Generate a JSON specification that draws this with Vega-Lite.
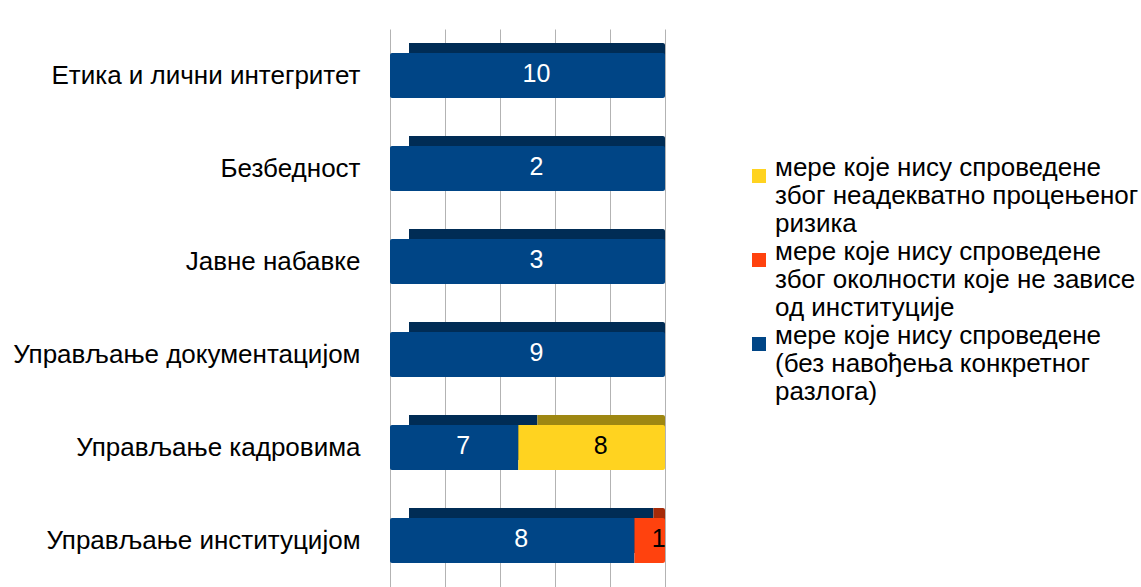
{
  "$schema": "https://vega.github.io/schema/vega-lite/v6.json",
  "width": 275,
  "height": 558,
  "autosize": "none",
  "padding": {"left": 390, "top": 29, "right": 476, "bottom": 0},
  "background": "white",
  "config": {
    "view": {"stroke": null},
    "font": "Liberation Sans"
  },
  "data": {"values": [
      {"cat": "Етика и лични интегритет", "series": "мере које нису спроведене\n(без навођења конкретног\nразлога)", "ord": 1, "value": 10},
      {"cat": "Безбедност ", "series": "мере које нису спроведене\n(без навођења конкретног\nразлога)", "ord": 1, "value": 2},
      {"cat": "Јавне набавке", "series": "мере које нису спроведене\n(без навођења конкретног\nразлога)", "ord": 1, "value": 3},
      {"cat": "Управљање документацијом", "series": "мере које нису спроведене\n(без навођења конкретног\nразлога)", "ord": 1, "value": 9},
      {"cat": "Управљање кадровима", "series": "мере које нису спроведене\n(без навођења конкретног\nразлога)", "ord": 1, "value": 7},
      {"cat": "Управљање кадровима", "series": "мере које нису спроведене\nзбог неадекватно процењеног\nризика", "ord": 2, "value": 8},
      {"cat": "Управљање институцијом", "series": "мере које нису спроведене\n(без навођења конкретног\nразлога)", "ord": 1, "value": 8},
      {"cat": "Управљање институцијом", "series": "мере које нису спроведене\nзбог околности које не зависе\nод институције", "ord": 2, "value": 1}
  ]},
  "layer": [
    {
      "mark": {"type": "bar", "size": 45, "xOffset": 19, "x2Offset": 19, "yOffset": -10, "cornerRadius": 2},
      "encoding": {
        "y": {"field": "cat", "type": "nominal", "sort": null,
              "axis": {"title": null, "domain": false, "ticks": false, "labelPadding": 30, "labelFontSize": 26, "labelColor": "#000000", "labelLimit": 400, "labelFont": "Liberation Sans"}},
        "x": {"field": "value", "type": "quantitative", "stack": "normalize",
              "axis": {"title": null, "labels": false, "ticks": false, "domain": false, "grid": true, "gridColor": "#b3b3b3", "gridOpacity": 1,
                       "values": [0, 0.1, 0.2, 0.3, 0.4, 0.5, 0.6, 0.7, 0.8, 0.9, 1]}},
        "order": {"field": "ord", "type": "quantitative"},
        "color": {"condition": [
                    {"test": "datum.ord == 1", "value": "#002c55"},
                    {"test": "indexof(datum.series, 'ризика') >= 0", "value": "#9e8712"}
                  ], "value": "#a52a08"}
      }
    },
    {
      "mark": {"type": "bar", "size": 45, "cornerRadius": 2},
      "encoding": {
        "y": {"field": "cat", "type": "nominal", "sort": null},
        "x": {"field": "value", "type": "quantitative", "stack": "normalize"},
        "order": {"field": "ord", "type": "quantitative"},
        "color": {"field": "series", "type": "nominal",
                  "scale": {"domain": ["мере које нису спроведене\nзбог неадекватно процењеног\nризика", "мере које нису спроведене\nзбог околности које не зависе\nод институције", "мере које нису спроведене\n(без навођења конкретног\nразлога)"],
                            "range": ["#FFD320", "#FF420E", "#004586"]},
                  "legend": {"title": null, "orient": "none", "legendX": 356, "legendY": 134,
                             "symbolType": "square", "symbolSize": 196, "symbolStrokeWidth": 0,
                             "labelFontSize": 26, "labelFont": "Liberation Sans", "labelColor": "#000000",
                             "labelLimit": 500, "labelOffset": 3, "labelBaseline": "alphabetic", "rowPadding": 2,
                             "labelExpr": "split(datum.label, '\\n')"}}
      }
    },
    {
      "mark": {"type": "text", "fontSize": 25, "font": "Liberation Sans", "align": "center", "baseline": "middle", "xOffset": 9, "yOffset": -2},
      "encoding": {
        "y": {"field": "cat", "type": "nominal", "sort": null},
        "x": {"field": "value", "type": "quantitative", "stack": "normalize", "bandPosition": 0.5},
        "order": {"field": "ord", "type": "quantitative"},
        "text": {"field": "value", "type": "quantitative"},
        "color": {"condition": {"test": "datum.ord == 1", "value": "#ffffff"}, "value": "#000000"}
      }
    }
  ]
}
